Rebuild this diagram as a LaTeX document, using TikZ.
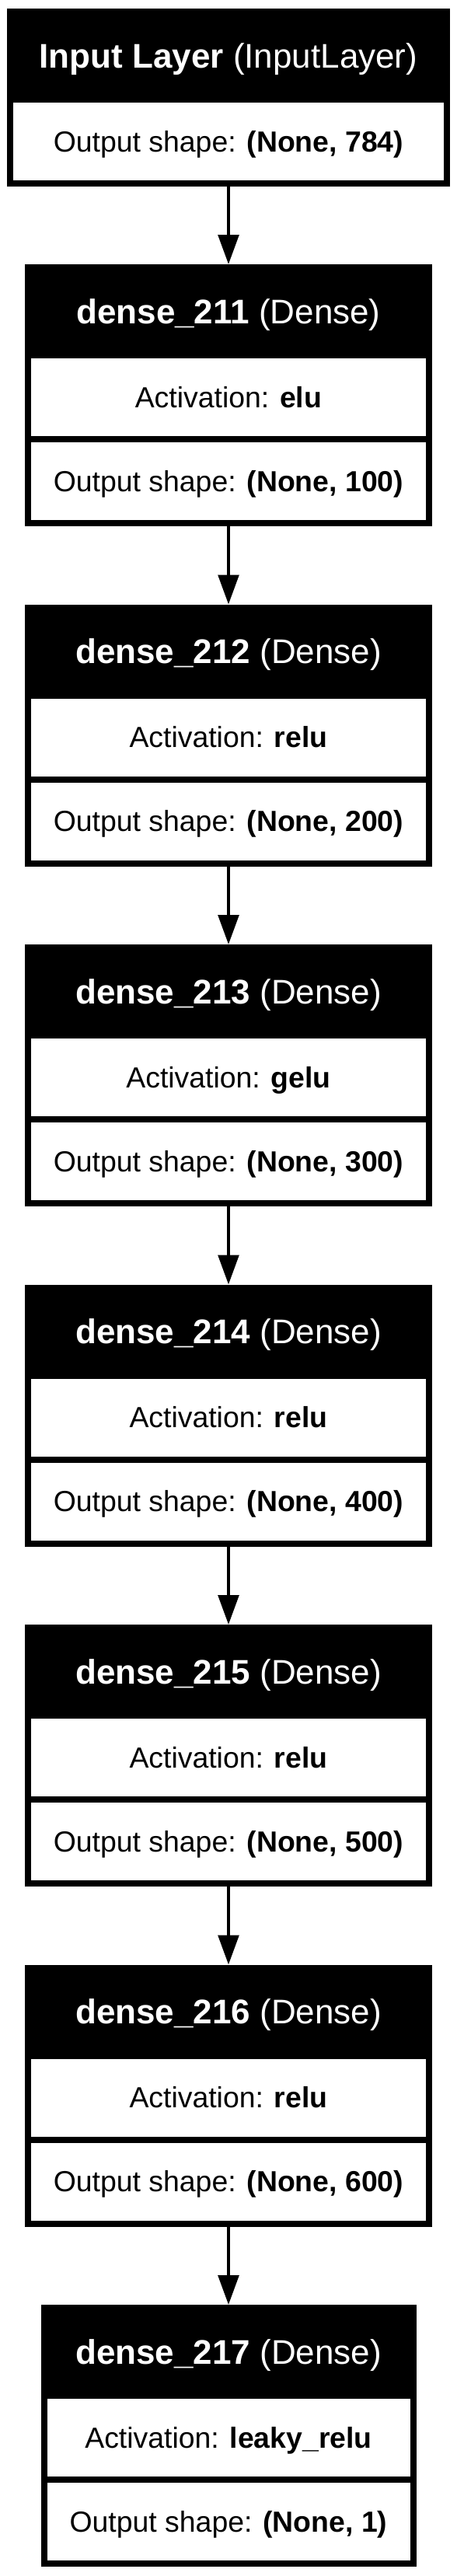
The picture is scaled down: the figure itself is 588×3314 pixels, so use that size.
\documentclass[tikz,border=0pt]{standalone}
\usepackage{fontspec}
\setmainfont{Liberation Sans}
\usetikzlibrary{arrows.meta,calc}

\tikzset{
    layer/.style={rectangle, fill=black, draw=none, outer sep=0pt, anchor=north, minimum height=337pt},
    head/.style={text=white, inner sep=0pt, font=\fontsize{44}{53}\selectfont, text height=31.5pt, text depth=0pt},
    cell/.style={rectangle, fill=white, outer sep=0pt, inner sep=0pt, minimum height=100pt,
        font=\fontsize{37.4}{45}\selectfont, text height=26.8pt, text depth=0pt},
    flow/.style={line width=4.3pt, -{Triangle[length=38pt,width=26.5pt]}}
}

\begin{document}
\begin{tikzpicture}[x=1pt,y=1pt]
    \useasboundingbox (0,0) rectangle (588,-3314);
    % input layer
    \node[layer, minimum width=569.4pt, minimum height=229pt] (in) at (294,-11) {};
    \node[head] (inhead) at ($(in.north)+(0,-60.5)$) {\textbf{Input Layer} (InputLayer)};
    \node[cell, minimum width=553.4pt] (inshape) at ($(in.north)+(0,-171)$) {Output shape: \textbf{(None, 784)}};
    % dense layers
    \foreach \n/\act/\units/\w [count=\i] in {211/elu/100/524.6, 212/relu/200/524.6, 213/gelu/300/524.6,
        214/relu/400/524.6, 215/relu/500/524.6, 216/relu/600/524.6, 217/leaky\_relu/1/483} {
        \node[layer, minimum width=\w pt] (d\n) at (294,{-340-437.5*(\i-1)}) {};
        \node[head] (d\n head) at ($(d\n.north)+(0,-60.5)$) {\textbf{dense\_\n} (Dense)};
        \node[cell, minimum width=\w pt-16pt] (d\n act) at ($(d\n.north)+(0,-171)$) {Activation: \textbf{\act}};
        \node[cell, minimum width=\w pt-16pt] (d\n shape) at ($(d\n.north)+(0,-279)$) {Output shape: \textbf{(None, \units)}};
    }
    % connections
    \foreach \a/\b in {in/d211, d211/d212, d212/d213, d213/d214, d214/d215, d215/d216, d216/d217}
        \draw[flow] (\a.south) -- (\b.north);
\end{tikzpicture}
\end{document}
